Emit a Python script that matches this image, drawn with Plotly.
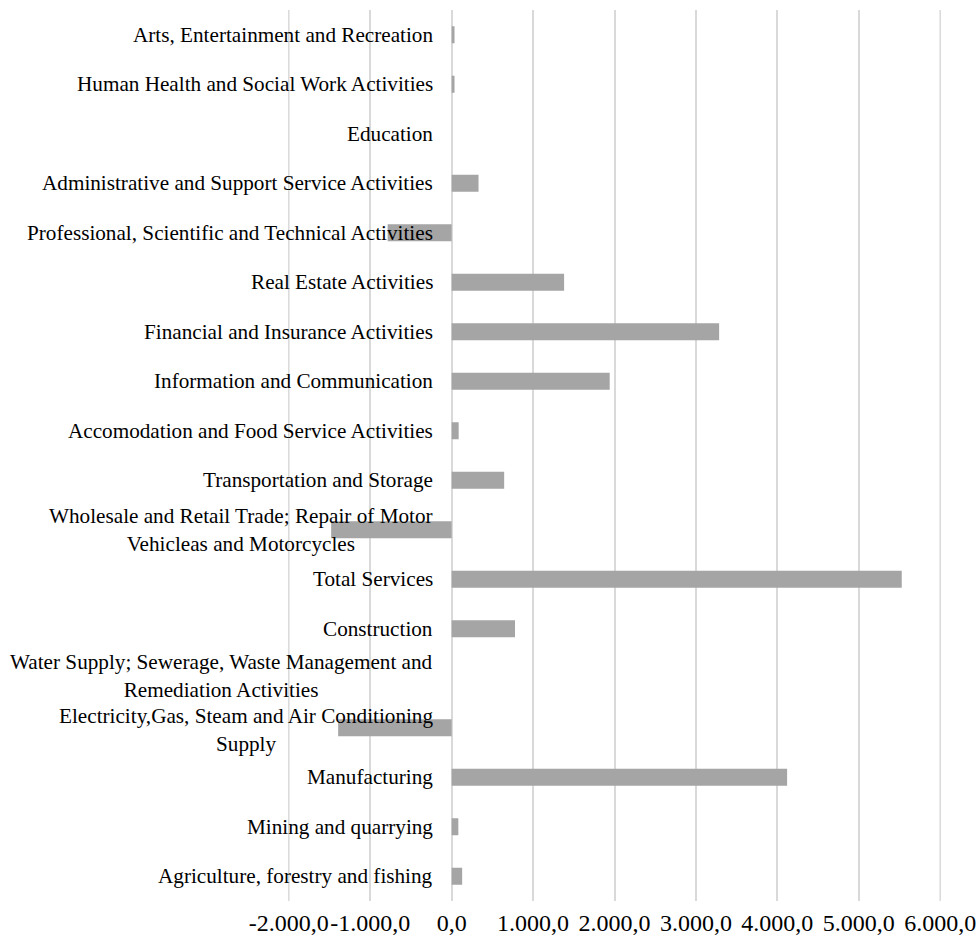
import plotly.graph_objects as go

categories = [
    "Arts, Entertainment and Recreation",
    "Human Health and Social Work Activities",
    "Education",
    "Administrative and Support Service Activities",
    "Professional, Scientific and Technical Activities",
    "Real Estate Activities",
    "Financial and Insurance Activities",
    "Information and Communication",
    "Accomodation and Food Service Activities",
    "Transportation and Storage",
    "Wholesale and Retail Trade; Repair of Motor Vehicleas and Motorcycles",
    "Total Services",
    "Construction",
    "Water Supply; Sewerage, Waste Management and Remediation Activities",
    "Electricity,Gas, Steam and Air Conditioning Supply",
    "Manufacturing",
    "Mining and quarrying",
    "Agriculture, forestry and fishing",
]

labels = [
    "Arts, Entertainment and Recreation",
    "Human Health and Social Work Activities",
    "Education",
    "Administrative and Support Service Activities",
    "Professional, Scientific and Technical Activities",
    "Real Estate Activities",
    "Financial and Insurance Activities",
    "Information and Communication",
    "Accomodation and Food Service Activities",
    "Transportation and Storage",
    "Wholesale and Retail Trade; Repair of Motor<br>Vehicleas and Motorcycles",
    "Total Services",
    "Construction",
    "Water Supply; Sewerage, Waste Management and<br>Remediation Activities",
    "Electricity,Gas, Steam and Air Conditioning<br>Supply",
    "Manufacturing",
    "Mining and quarrying",
    "Agriculture, forestry and fishing",
]

values = [35, 35, 0, 330, -786, 1381, 3285, 1941, 86, 645,
          -1480, 5528, 778, 0, -1394, 4120, 82, 129]

tick_vals = [-2000, -1000, 0, 1000, 2000, 3000, 4000, 5000, 6000]
tick_text = ["-2.000,0", "-1.000,0", "0,0", "1.000,0", "2.000,0",
             "3.000,0", "4.000,0", "5.000,0", "6.000,0"]

FONT = "Liberation Serif, Times New Roman, serif"
GRID = "#D9D9D9"

fig = go.Figure(go.Bar(
    x=values, y=categories, orientation="h",
    marker=dict(color="#A5A5A5", line=dict(width=0)),
))

# make sure the gridlines at both ends of the value axis are drawn
for v in (tick_vals[0], tick_vals[-1]):
    fig.add_shape(type="line", xref="x", yref="paper", x0=v, x1=v, y0=0, y1=1,
                  line=dict(color=GRID, width=1.5), layer="below")

label_yshift = {
    "Water Supply; Sewerage, Waste Management and Remediation Activities": 2,
    "Electricity,Gas, Steam and Air Conditioning Supply": -2,
}

for cat, lab in zip(categories, labels):
    fig.add_annotation(
        x=0, y=cat, xref="x", yref="y", text=lab, showarrow=False,
        xanchor="right", yanchor="middle", align="center", xshift=-17,
        yshift=label_yshift.get(cat, 0),
        font=dict(family=FONT, size=21.2, color="#000000"),
    )

fig.update_xaxes(
    range=[-2010, 6010], tickvals=tick_vals, ticktext=tick_text,
    showgrid=True, gridcolor=GRID, gridwidth=1.5,
    zeroline=False, showline=False, ticks="",
    tickfont=dict(family=FONT, size=24, color="#000000"),
    tickangle=0, automargin=False, ticklabelstandoff=5,
)
fig.update_yaxes(
    type="category", categoryorder="array", categoryarray=categories[::-1],
    showticklabels=False, showgrid=False, zeroline=False, showline=False,
    automargin=False,
)
fig.update_layout(
    width=979, height=940,
    margin=dict(l=288, r=38, t=10, b=39),
    bargap=0.656, showlegend=False,
    plot_bgcolor="#FFFFFF", paper_bgcolor="#FFFFFF",
    font=dict(family=FONT),
)

fig.write_html("out.html")
